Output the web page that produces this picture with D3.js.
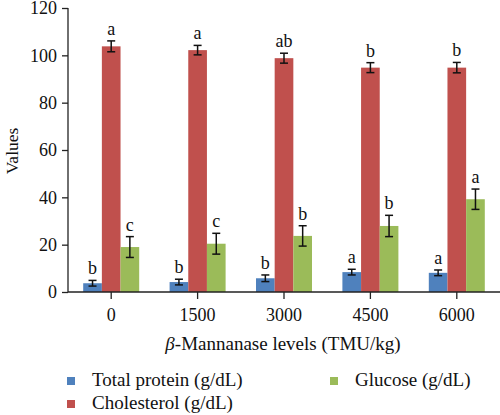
<!DOCTYPE html>
<html><head><meta charset="utf-8">
<script src="https://cdn.jsdelivr.net/npm/d3@7"></script>
<style>body{margin:0;background:#fff}svg{display:block}text{font-family:"Liberation Serif","Times New Roman",serif;fill:#111}</style>
</head><body>
<svg id="c" width="500" height="415"></svg>
<script>
const categories = ["0","1500","3000","4500","6000"];
const seriesNames = ["Total protein (g/dL)","Cholesterol (g/dL)","Glucose (g/dL)"];
const colors = ["#4F81BD","#C0504D","#9BBB59"];
const totalProtein = [3.7,4.2,5.8,8.4,8.1];
const cholesterol = [103.8,102.2,98.8,94.8,94.8];
const glucose = [19.0,20.4,23.7,27.9,39.2];
const errProtein = [1.2,1.2,1.4,1.2,1.2];
const errCholesterol = [2.3,2.0,2.1,2.1,2.2];
const errGlucose = [4.4,4.4,4.3,4.5,4.3];
const lettersProtein = ["b","b","b","a","a"];
const lettersCholesterol = ["a","a","ab","b","b"];
const lettersGlucose = ["c","c","b","b","a"];
const yTicks = [0,20,40,60,80,100,120];

const values = [totalProtein, cholesterol, glucose];
const errs = [errProtein, errCholesterol, errGlucose];
const letters = [lettersProtein, lettersCholesterol, lettersGlucose];

const svg = d3.select("#c");
const x = d3.scaleBand().domain(categories).range([68,500]).padding(0);
const xs = d3.scaleBand().domain([0,1,2]).range([-28,28]).padding(0);
const y = d3.scaleLinear().domain([0,120]).range([292,8]);

// y axis
const ya = svg.append("g").attr("transform","translate(68,0)")
  .call(d3.axisLeft(y).tickValues(yTicks).tickSize(6).tickPadding(5));
ya.selectAll("path,line").attr("stroke","#222").attr("stroke-width",1.3);
ya.select(".domain").attr("d","M0,8V292");
ya.selectAll("text").style("font-family","Liberation Serif").style("font-size","18px").attr("fill","#111");

// bars
const data = [];
categories.forEach((c,i)=>{ for(let s=0;s<3;s++) data.push({c,s,v:values[s][i],e:errs[s][i],l:letters[s][i]}); });
const cx = d => x(d.c)+x.bandwidth()/2+xs(d.s);
svg.append("g").selectAll("rect").data(data).join("rect")
  .attr("x",cx).attr("width",xs.bandwidth())
  .attr("y",d=>y(d.v)).attr("height",d=>y(0)-y(d.v)).attr("fill",d=>colors[d.s]);

// error bars
const eb = svg.append("g").attr("stroke","#111").attr("stroke-width",1.5);
data.forEach(d=>{
  const m = cx(d)+xs.bandwidth()/2;
  eb.append("line").attr("x1",m).attr("x2",m).attr("y1",y(d.v+d.e)).attr("y2",y(d.v-d.e));
  eb.append("line").attr("x1",m-4).attr("x2",m+4).attr("y1",y(d.v+d.e)).attr("y2",y(d.v+d.e));
  eb.append("line").attr("x1",m-4).attr("x2",m+4).attr("y1",y(d.v-d.e)).attr("y2",y(d.v-d.e));
});
svg.append("g").selectAll("text").data(data).join("text")
  .attr("x",d=>cx(d)+xs.bandwidth()/2).attr("y",d=>y(d.v+d.e)-6)
  .attr("text-anchor","middle").style("font-size","18px").text(d=>d.l);

// x axis
const xa = svg.append("g").attr("transform","translate(0,292)")
  .call(d3.axisBottom(x).tickSize(7).tickPadding(9));
xa.selectAll("path,line").attr("stroke","#222").attr("stroke-width",1.3);
xa.select(".domain").attr("d","M68,0H500");
xa.selectAll("text").style("font-family","Liberation Serif").style("font-size","18px").attr("fill","#111");

// titles
svg.append("text").attr("transform","translate(18,151) rotate(-90)").attr("text-anchor","middle")
  .style("font-size","17.5px").text("Values");
const xt = svg.append("text").attr("x",283).attr("y",350).attr("text-anchor","middle").style("font-size","19px");
xt.append("tspan").style("font-style","italic").text("β");
xt.append("tspan").text("-Mannanase levels (TMU/kg)");

// legend
const legPos = [[67,377],[67,400],[330,377]];
seriesNames.forEach((n,i)=>{
  const g = svg.append("g").attr("transform",`translate(${legPos[i][0]},${legPos[i][1]})`);
  g.append("rect").attr("width",8).attr("height",8).attr("fill",colors[i]);
  g.append("text").attr("x",25).attr("y",9).style("font-size","19px").text(n);
});
</script>
</body></html>
